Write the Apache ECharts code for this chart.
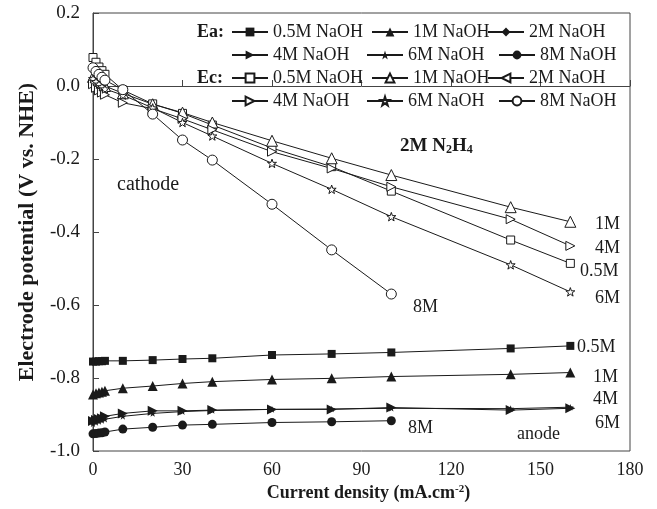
<!DOCTYPE html>
<html><head><meta charset="utf-8">
<script src="https://cdn.jsdelivr.net/npm/echarts@6/dist/echarts.min.js"></script>
<style>html,body{margin:0;padding:0;background:#fff}#c{width:657px;height:509px}</style>
</head><body><div id="c"></div>
<script>
// ---- data ----
const xFull = [0,1,2,3,4,10,20,30,40,60,80,100,140,160];
const x8 = [0,1,2,3,4,10,20,30,40,60,80,100];
const xTicks = [0,30,60,90,120,150,180];
const yTicks = [-1.0,-0.8,-0.6,-0.4,-0.2,0.0,0.2];

const ea05 = [-0.755,-0.755,-0.754,-0.754,-0.753,-0.753,-0.751,-0.748,-0.746,-0.737,-0.734,-0.730,-0.719,-0.712];
const ea1  = [-0.845,-0.842,-0.840,-0.838,-0.835,-0.828,-0.822,-0.815,-0.810,-0.804,-0.801,-0.796,-0.790,-0.785];
const ea2  = [];
const ea4  = [-0.918,-0.915,-0.912,-0.910,-0.905,-0.897,-0.890,-0.890,-0.888,-0.886,-0.886,-0.881,-0.888,-0.883];
const ea6  = [-0.925,-0.922,-0.919,-0.916,-0.913,-0.905,-0.897,-0.892,-0.889,-0.886,-0.885,-0.883,-0.884,-0.880];
const ea8  = [-0.953,-0.952,-0.951,-0.950,-0.948,-0.940,-0.935,-0.929,-0.927,-0.922,-0.920,-0.917];

const ec05 = [0.078,0.065,0.052,0.042,0.032,-0.011,-0.049,-0.075,-0.107,-0.170,-0.221,-0.288,-0.422,-0.486];
const ec1  = [0.025,0.018,0.012,0.006,0.000,-0.020,-0.050,-0.073,-0.100,-0.150,-0.198,-0.244,-0.332,-0.372];
const ec2  = [];
const ec4  = [0.005,-0.005,-0.012,-0.018,-0.024,-0.046,-0.062,-0.090,-0.120,-0.180,-0.226,-0.276,-0.365,-0.438];
const ec6  = [0.020,0.012,0.005,-0.002,-0.008,-0.025,-0.060,-0.100,-0.137,-0.212,-0.283,-0.358,-0.490,-0.564];
const ec8  = [0.050,0.040,0.032,0.024,0.016,-0.010,-0.077,-0.148,-0.203,-0.324,-0.449,-0.570];

const names = ['0.5M NaOH','1M NaOH','2M NaOH','4M NaOH','6M NaOH','8M NaOH'];

// ---- styling ----
const FONT = 'Liberation Serif';
const INK = '#1a1a1a';
const RTRI = 'path://M0,0L10,5L0,10Z';
const LTRI = 'path://M10,0L0,5L10,10Z';
const STAR = 'path://M5,0L6.2,3.6L10,3.6L7,5.9L8.1,9.5L5,7.3L1.9,9.5L3,5.9L0,3.6L3.8,3.6Z';

function pairs(xs, ys){ return ys.map((y,i)=>[xs[i], y]); }

function mk(name, xs, ys, symbol, size, filled){
  return {
    name, type:'line', data: pairs(xs, ys), symbol, symbolSize:size, symbolKeepAspect:true,
    showSymbol:true, animation:false,
    lineStyle:{color:INK, width:1},
    itemStyle:{color: filled ? INK : '#fff', borderColor: INK, borderWidth: filled ? 0 : 1},
    z: filled ? 3 : 2
  };
}

const series = [
  mk('Ea '+names[0], xFull, ea05, 'rect', 8, true),
  mk('Ea '+names[1], xFull, ea1, 'triangle', 10, true),
  mk('Ea '+names[2], xFull, ea2, 'diamond', 8, true),
  mk('Ea '+names[3], xFull, ea4, RTRI, 10, true),
  mk('Ea '+names[4], xFull, ea6, STAR, 7, true),
  mk('Ea '+names[5], x8, ea8, 'circle', 9, true),
  mk('Ec '+names[0], xFull, ec05, 'rect', 8, false),
  mk('Ec '+names[1], xFull, ec1, 'triangle', 11, false),
  mk('Ec '+names[2], xFull, ec2, LTRI, 9, false),
  mk('Ec '+names[3], xFull, ec4, RTRI, 9, false),
  mk('Ec '+names[4], xFull, ec6, STAR, 9, false),
  mk('Ec '+names[5], x8, ec8, 'circle', 10, false)
];

// legends: one per item
const colA = [231, 371, 487];
const colB = [231, 366, 498];
const rowTop = [23, 46, 69, 92];
const legends = [];
series.forEach((s, i) => {
  const grp = i < 6 ? 0 : 1;
  const k = i % 6;
  const row = grp*2 + (k < 3 ? 0 : 1);
  const col = k % 3;
  legends.push({
    data:[s.name], left: (k<3?colA:colB)[col], top: rowTop[row], padding:0,
    itemWidth: 36, itemHeight: 11, itemGap: 0,
    formatter: n => n.slice(3),
    textStyle:{fontFamily:FONT, fontSize:18, lineHeight:18, color:INK},
    selectedMode:false
  });
});

const txt = (x, y, t, extra) => ({type:'text', x, y, silent:true,
  style: Object.assign({text:t, fontFamily:FONT, fontSize:18, fill:INK, verticalAlign:'middle', align:'left'}, extra||{})});

const chart = echarts.init(document.getElementById('c'), null, {renderer:'canvas'});
chart.setOption({
  animation:false,
  backgroundColor:'#fff',
  grid:{left:93, right:27, top:13, bottom:58, show:true, borderColor:'#444', borderWidth:1},
  legend: legends,
  xAxis:{
    type:'value', min:xTicks[0], max:xTicks[xTicks.length-1], interval:30,
    axisLine:{lineStyle:{color:'#444'}},
    axisTick:{inside:true, length:6, lineStyle:{color:'#444'}},
    splitLine:{show:false},
    axisLabel:{fontFamily:FONT, fontSize:18, color:INK, margin:10},
    name:'Current density (mA.cm{sup|-2})', nameLocation:'middle', nameGap:27,
    nameTextStyle:{fontFamily:FONT, fontSize:18, fontWeight:'bold', color:INK, padding:[0,0,0,14],
      rich:{sup:{fontFamily:FONT, fontSize:11, fontWeight:'bold', color:INK, verticalAlign:'top', padding:[0,0,8,0]}}}
  },
  yAxis:{
    type:'value', min:yTicks[0], max:yTicks[yTicks.length-1], interval:0.2,
    axisLine:{lineStyle:{color:'#444'}},
    axisTick:{inside:true, length:6, lineStyle:{color:'#444'}},
    splitLine:{show:false},
    axisLabel:{fontFamily:FONT, fontSize:19, color:INK, margin:13, formatter:v=>v.toFixed(1)},
    name:'Electrode potential (V vs. NHE)', nameLocation:'middle', nameGap:55, nameRotate:90,
    nameTextStyle:{fontFamily:FONT, fontSize:22, fontWeight:'bold', color:INK}
  },
  series,
  graphic:[
    txt(197, 32, 'Ea:', {fontWeight:'bold'}),
    txt(197, 78, 'Ec:', {fontWeight:'bold'}),
    txt(117, 185, 'cathode', {fontSize:20}),
    {type:'text', x:400, y:146, silent:true, style:{
      text:'2M N{s|2}H{s|4}', fontFamily:FONT, fontSize:19, fontWeight:'bold', fill:INK, verticalAlign:'middle',
      rich:{s:{fontFamily:FONT, fontSize:12, fontWeight:'bold', fill:INK, verticalAlign:'bottom', padding:[7,0,0,0]}}}},
    txt(595, 224, '1M'),
    txt(595, 248, '4M'),
    txt(580, 271, '0.5M'),
    txt(595, 298, '6M'),
    txt(413, 307, '8M'),
    txt(577, 347, '0.5M'),
    txt(593, 377, '1M'),
    txt(593, 399, '4M'),
    txt(595, 423, '6M'),
    txt(408, 428, '8M'),
    txt(517, 434, 'anode')
  ]
});
</script></body></html>
